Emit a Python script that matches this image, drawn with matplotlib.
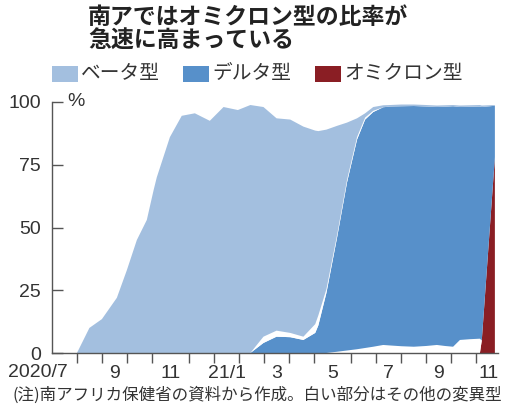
import numpy as np
import matplotlib
matplotlib.use("Agg")
import matplotlib.pyplot as plt
from matplotlib.patches import Rectangle

plt.rcParams['font.family'] = ['Liberation Sans Narrow', 'Liberation Sans', 'Noto Sans CJK JP', 'DejaVu Sans']

# ---- data (x = sample index, weeks from 2020/7) ----
month_labels = ["2020/7", "", "9", "", "11", "", "21/1", "", "3", "", "5", "", "7", "", "9", "", "11"]
samples_per_month = [4, 4, 4, 4, 6, 4, 4, 4, 4, 4, 6, 4, 4, 4, 4, 4, 4]

x_idx = [4, 6, 8, 10.4, 12, 13.6, 15.2, 16.3, 16.8, 18.9,
         20.8, 22.9, 25.3, 27.5, 29.8, 31.8, 33.9, 36, 38.2, 40.3,
         42.2, 42.7, 44, 45.7, 47.3, 48.9, 50.2, 51.5, 53.1, 54.2,
         56, 58, 60, 61.7, 63, 64.3, 65.4, 67, 68.6, 68.9, 71]

omicron = [0]*39 + [5, 78]

other_low = [0]*22 + [0, 0.5, 1, 1.5, 2, 2.5, 3.2, 3.0,
                      2.7, 2.5, 2.8, 3.2, 2.8, 2.5, 5.2, 5.5, 5.7, 0, 0]

delta = [0]*16 + [4, 6.5, 6.3, 5.2, 8, 11, 24, 45.5, 67, 83.5, 91, 93.5, 94.7, 95.2,
                  95.6, 95.9, 95.4, 94.8, 95.3, 95.8, 92.8, 92.6, 92.5, 93, 20.5]

other_mid = [0]*16 + [2.5, 2.4, 1.7, 1.3, 3.5, 4, 1.5, 1, 1, 1, 0.8, 0.5] + [0]*13

beta = [0, 10, 13.5, 22, 33, 45, 53, 65, 70, 86,
        94.5, 95.5, 92.5, 98, 96.8, 98.8, 91.5, 84.6, 85, 83.7,
        77.1, 73.4, 63.5, 43.5, 22.8, 7.5, 1.7, 1.5, 0.8, 0.6,
        0.7, 0.6, 0.6, 0.6, 0.6, 0.5, 0.6, 0.6, 0.6, 0.6, 0.3]

legend_names = ["ベータ型", "デルタ型", "オミクロン型"]
c_beta, c_delta, c_omi = "#a3bfdf", "#5790ca", "#8a1e24"

W, H = 512, 407
fig = plt.figure(figsize=(W/100, H/100), dpi=100)
ax = fig.add_axes([52/W, 1-353/H, (498-52)/W, (353-102)/H])

polys = ax.stackplot(x_idx, omicron, other_low, delta, other_mid, beta,
                     colors=[c_omi, "white", c_delta, "white", c_beta], linewidth=0)
for p in polys:
    p.set_edgecolor('none')
    p.set_antialiased(True)

ax.set_xlim(0, 71.5)
ax.set_ylim(0, 100)

axis_c = "#555555"
for s in ['top', 'right']:
    ax.spines[s].set_visible(False)
for s in ['left', 'bottom']:
    ax.spines[s].set_color(axis_c)
    ax.spines[s].set_linewidth(1.0)

bounds = np.cumsum([0] + samples_per_month)
ax.set_xticks(bounds[1:-1])
ax.set_xticklabels([])
centers = (bounds[:-1] + bounds[1:]) / 2
ax.set_xticks(centers[1:], minor=True)
ax.set_xticklabels(month_labels[1:], minor=True)
ax.tick_params(axis='x', which='major', direction='out', length=7, width=1, color=axis_c)
ax.tick_params(axis='x', which='minor', length=0, pad=9, labelsize=14, labelcolor="#333333")
ax.text(centers[0] + 0.5, -0.043, month_labels[0], transform=ax.get_xaxis_transform(),
        ha='right', va='top', fontsize=14, color="#333333")

ax.set_yticks([0, 25, 50, 75, 100])
ax.set_yticklabels(["0", "25", "50", "75", "100"])
ax.tick_params(axis='y', direction='in', length=8, width=1, color=axis_c, pad=8,
               labelsize=14, labelcolor="#333333")
ax.text(2.4, 100, "%", ha='left', va='center', fontsize=14, color="#333333")

# title
fig.text(88/W, 1-6/H, "南アではオミクロン型の比率が\n急速に高まっている", ha='left', va='top',
         fontsize=16.5, fontweight='bold', color="#222222", linespacing=1.05,
         family=['Noto Sans CJK JP'])

# legend
leg = [(52, c_beta), (183, c_delta), (315, c_omi)]
for (lx, col), name in zip(leg, legend_names):
    fig.patches.append(Rectangle((lx/W, 1-82/H), 26/W, 16/H, transform=fig.transFigure,
                                 facecolor=col, edgecolor='none'))
    fig.text((lx+29)/W, 1-74/H, name, ha='left', va='center', fontsize=14.2,
             color="#333333", family=['Noto Sans CJK JP'])

fig.text(12/W, 1-395/H, "(注)南アフリカ保健省の資料から作成。白い部分はその他の変異型",
         ha='left', va='center', fontsize=11.9, color="#333333",
         family=['Noto Sans CJK JP'])

fig.savefig("out.png", dpi=100)
